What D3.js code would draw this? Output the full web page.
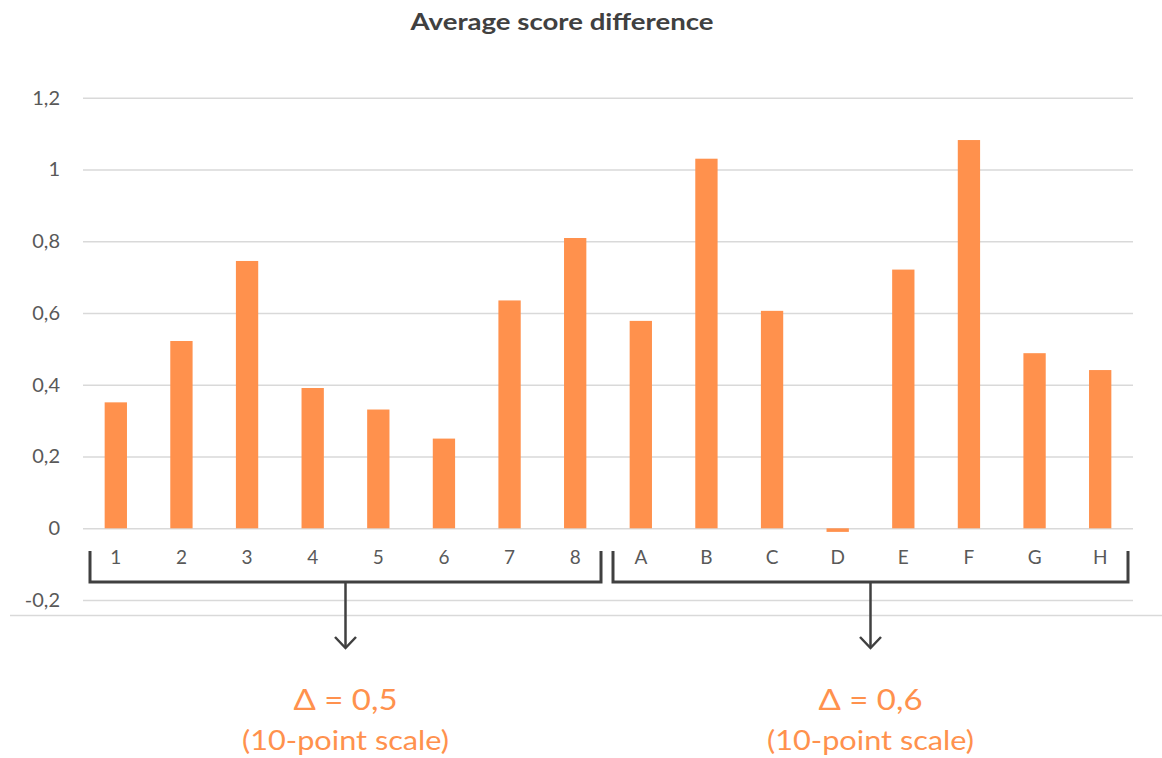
<!DOCTYPE html>
<html>
<head>
<meta charset="utf-8">
<script src="https://cdn.jsdelivr.net/npm/d3@7/dist/d3.min.js"></script>
<style>
  html, body { margin: 0; padding: 0; background: #ffffff; }
  svg { display: block; }
</style>
</head>
<body>
<svg id="chart" width="1162" height="758"></svg>
<script>
// Category labels: two groups of eight
const groupOne = ["1", "2", "3", "4", "5", "6", "7", "8"];
const groupTwo = ["A", "B", "C", "D", "E", "F", "G", "H"];
const categories = groupOne.concat(groupTwo);

// Average score difference per category
const values = [0.351, 0.522, 0.745, 0.391, 0.331, 0.250, 0.635, 0.809,
                0.578, 1.030, 0.606, -0.010, 0.721, 1.082, 0.488, 0.441];

// Y axis ticks and their labels (decimal comma)
const yTicks = [-0.2, 0, 0.2, 0.4, 0.6, 0.8, 1, 1.2];
const yTickLabels = ["-0,2", "0", "0,2", "0,4", "0,6", "0,8", "1", "1,2"];

// Group summaries shown under the brackets
const groupNotes = [
  { first: groupOne[0], last: groupOne[groupOne.length - 1], inset: 7, delta: "Δ = 0,5", note: "(10-point scale)" },
  { first: groupTwo[0], last: groupTwo[groupTwo.length - 1], inset: 5, delta: "Δ = 0,6", note: "(10-point scale)" }
];

const title = "Average score difference";

const barColor = "#FF914D";
const gridColor = "#D9D9D9";
const textColor = "#595959";
const bracketColor = "#404040";
const font = "Lato, 'Open Sans', sans-serif";

const svg = d3.select("#chart");
const plot = { left: 83, right: 1133, top: 97.7, zero: 528.3 };

const x = d3.scaleBand()
  .domain(categories)
  .range([plot.left, plot.right])
  .paddingInner(0.66)
  .paddingOuter(0.33);

const y = d3.scaleLinear()
  .domain([0, 1.2])
  .range([plot.zero, plot.top]);

// Title
svg.append("text")
  .attr("x", 562)
  .attr("y", 30)
  .attr("text-anchor", "middle")
  .attr("font-family", font)
  .attr("font-weight", 700)
  .attr("font-size", 23)
  .attr("textLength", 303)
  .attr("lengthAdjust", "spacingAndGlyphs")
  .attr("fill", "#404040")
  .text(title);

// Horizontal gridlines with tick labels
const yAxis = d3.axisLeft(y)
  .tickValues(yTicks)
  .tickSize(-(plot.right - plot.left))
  .tickPadding(23)
  .tickFormat((d, i) => yTickLabels[i]);

const yAxisG = svg.append("g")
  .attr("transform", `translate(${plot.left},0)`)
  .call(yAxis);
yAxisG.select(".domain").remove();
yAxisG.selectAll(".tick line")
  .attr("stroke", gridColor)
  .attr("stroke-width", 1.5);
yAxisG.selectAll(".tick text")
  .attr("font-family", font)
  .attr("font-size", 20)
  .attr("fill", textColor);

// Long baseline beneath the plot area
svg.append("line")
  .attr("x1", 10).attr("x2", 1162)
  .attr("y1", y(-0.2) + 15.4).attr("y2", y(-0.2) + 15.4)
  .attr("stroke", gridColor)
  .attr("stroke-width", 1.5);

// Bars
svg.append("g")
  .selectAll("rect")
  .data(values)
  .join("rect")
  .attr("x", (d, i) => x(categories[i]))
  .attr("width", x.bandwidth())
  .attr("y", d => y(Math.max(0, d)))
  .attr("height", d => Math.abs(y(d) - y(0)))
  .attr("fill", barColor);

// Category labels
const xAxis = d3.axisBottom(x).tickSize(0).tickPadding(22);
const xAxisG = svg.append("g")
  .attr("transform", `translate(0,${plot.zero})`)
  .call(xAxis);
xAxisG.select(".domain").remove();
xAxisG.selectAll(".tick text")
  .attr("font-family", font)
  .attr("font-size", 19)
  .attr("fill", textColor);

// Brackets, arrows and group notes
const bracketTop = 551;
const bracketBottom = 582;
const arrowTip = 648;
const step = x.step();
const center = c => x(c) + x.bandwidth() / 2;

groupNotes.forEach(g => {
  const x0 = center(g.first) - step / 2 + g.inset;
  const x1 = center(g.last) + step / 2 - g.inset;
  const mid = (x0 + x1) / 2;

  svg.append("path")
    .attr("d", `M${x0},${bracketTop} V${bracketBottom} H${x1} V${bracketTop}`)
    .attr("fill", "none")
    .attr("stroke", bracketColor)
    .attr("stroke-width", 3);

  svg.append("path")
    .attr("d", `M${mid},${bracketBottom} V${arrowTip}`)
    .attr("fill", "none")
    .attr("stroke", bracketColor)
    .attr("stroke-width", 2.5);

  svg.append("path")
    .attr("d", `M${mid - 10.5},${arrowTip - 11} L${mid},${arrowTip} L${mid + 10.5},${arrowTip - 11}`)
    .attr("fill", "none")
    .attr("stroke", bracketColor)
    .attr("stroke-width", 2.5);

  svg.append("text")
    .attr("x", mid)
    .attr("y", 710)
    .attr("text-anchor", "middle")
    .attr("font-family", font)
    .attr("font-size", 28)
    .attr("textLength", 104)
    .attr("lengthAdjust", "spacingAndGlyphs")
    .attr("fill", barColor)
    .text(g.delta);

  svg.append("text")
    .attr("x", mid)
    .attr("y", 750)
    .attr("text-anchor", "middle")
    .attr("font-family", font)
    .attr("font-size", 27)
    .attr("textLength", 207)
    .attr("lengthAdjust", "spacingAndGlyphs")
    .attr("fill", barColor)
    .text(g.note);
});
</script>
</body>
</html>
